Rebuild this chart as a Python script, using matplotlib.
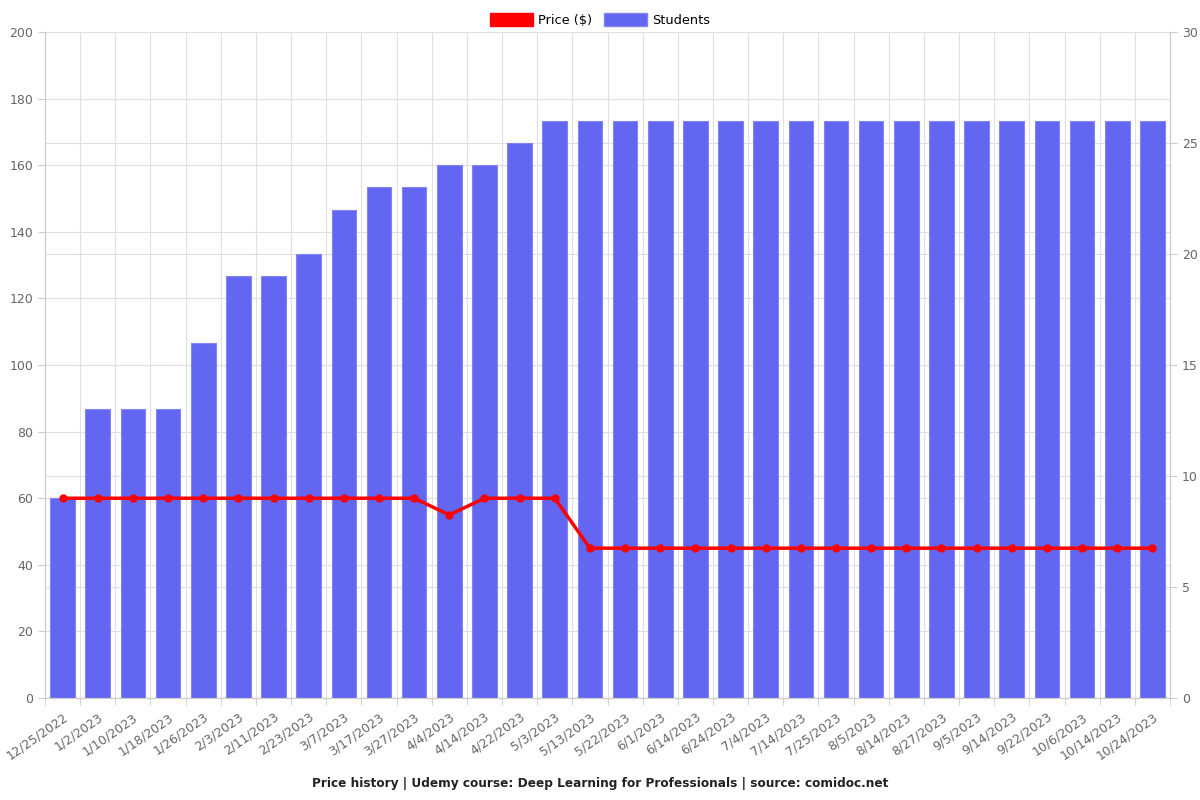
import matplotlib
matplotlib.use("Agg")
import matplotlib.pyplot as plt
from matplotlib.patches import Patch
import numpy as np

dates = ["12/25/2022", "1/2/2023", "1/10/2023", "1/18/2023", "1/26/2023", "2/3/2023",
         "2/11/2023", "2/23/2023", "3/7/2023", "3/17/2023", "3/27/2023", "4/4/2023",
         "4/14/2023", "4/22/2023", "5/3/2023", "5/13/2023", "5/22/2023", "6/1/2023",
         "6/14/2023", "6/24/2023", "7/4/2023", "7/14/2023", "7/25/2023", "8/5/2023",
         "8/14/2023", "8/27/2023", "9/5/2023", "9/14/2023", "9/22/2023", "10/6/2023",
         "10/14/2023", "10/24/2023"]
price = [59.99] * 11 + [54.99, 59.99, 59.99, 59.99] + [44.99] * 17
students = [9, 13, 13, 13, 16, 19, 19, 20, 22, 23, 23, 24, 24, 25] + [26] * 18

grey = "#666666"
gridc = "#e0e0e0"

fig = plt.figure(figsize=(12, 8), dpi=100)
ax = fig.add_axes([45/1200, 1 - 698/800, (1170-45)/1200, (698-32)/800])
ax2 = ax.twinx()

x = np.arange(len(dates))
n = len(dates)

# grid behind bars (drawn on ax2): left ticks every 20, right ticks every 5
for v in range(0, 201, 20):
    ax2.axhline(v * 30 / 200, color=gridc, lw=0.8, zorder=0)
for v in range(0, 31, 5):
    ax2.axhline(v, color=gridc, lw=0.8, zorder=0)
for b in np.arange(-0.5, n, 1.0):
    ax2.axvline(b, color=gridc, lw=0.8, zorder=0)

ax2.bar(x, students, width=0.7, color="#6366F1", edgecolor="#8385f3", linewidth=0.8, zorder=2)
ax2.set_ylim(0, 30)
ax2.set_yticks(range(0, 31, 5))

ax.set_zorder(ax2.get_zorder() + 1)
ax.patch.set_visible(False)
ax.plot(x, price, color="#ff0000", lw=2.5, marker="o", markersize=5, zorder=3)
ax.set_ylim(0, 200)
ax.set_yticks(range(0, 201, 20))
ax.set_xlim(-0.5, n - 0.5)

ax.set_xticks(x)
ax.set_xticklabels(dates, rotation=35, ha="right", rotation_mode="anchor")
ax.set_xticks(np.arange(-0.5, n, 1.0), minor=True)
ax.tick_params(axis="x", which="major", length=0, pad=9, labelsize=9, labelcolor=grey)
ax.tick_params(axis="x", which="minor", length=5, color="#cccccc")
ax.tick_params(axis="y", length=5, color="#cccccc", labelsize=9, labelcolor=grey)
ax2.tick_params(axis="y", length=5, color="#cccccc", labelsize=9, labelcolor=grey)

for a in (ax, ax2):
    for s in a.spines.values():
        s.set_color("#cccccc")
    a.spines["top"].set_visible(False)

handles = [Patch(facecolor="#ff0000", edgecolor="#ff0000"),
           Patch(facecolor="#6366F1", edgecolor="#8385f3")]
fig.legend(handles, ["Price ($)", "Students"], loc="upper center", bbox_to_anchor=(0.5, 0.998),
           ncol=2, frameon=False, fontsize=9.3, handlelength=3.3, handleheight=1.2,
           columnspacing=0.9, handletextpad=0.4)

fig.text(0.5, 1 - 783/800, "Price history | Udemy course: Deep Learning for Professionals | source: comidoc.net",
         ha="center", va="center", fontsize=8.7, fontweight="bold", color="#222222")

fig.savefig("out.png", dpi=100)
